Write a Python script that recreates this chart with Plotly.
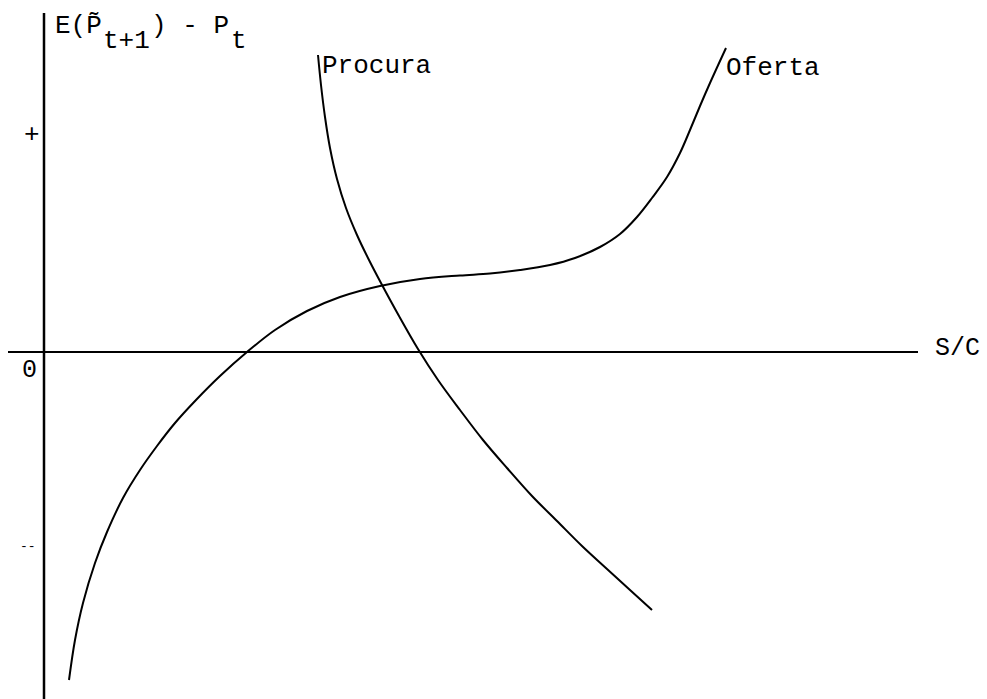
import plotly.graph_objects as go

# curves (x = S/C, y = E(P~t+1) - Pt, origin at axis crossing)
oferta_x = [0.25, 0.31, 0.39, 0.51, 0.63, 0.79, 0.96, 1.13, 1.31, 1.52, 1.76, 2.03, 2.31, 2.63, 2.96, 3.36,
            3.76, 4.16, 4.46, 4.76, 5.06, 5.31, 5.56, 5.76, 5.93, 6.08, 6.23, 6.36, 6.46, 6.56, 6.66, 6.82]
oferta_y = [-3.28, -2.88, -2.51, -2.11, -1.80, -1.46, -1.18, -0.94, -0.71, -0.48, -0.24, 0.00, 0.22, 0.41, 0.55, 0.66,
            0.73, 0.765, 0.785, 0.82, 0.87, 0.94, 1.05, 1.18, 1.35, 1.54, 1.75, 1.99, 2.22, 2.46, 2.69, 3.04]

procura_x = [2.74, 2.77, 2.81, 2.86, 2.93, 3.02, 3.13, 3.25, 3.37, 3.55, 3.74, 3.94, 4.16, 4.39, 4.63,
             4.88, 5.13, 5.38, 5.63, 5.86, 6.08]
procura_y = [2.97, 2.67, 2.35, 2.04, 1.73, 1.44, 1.17, 0.92, 0.69, 0.36, 0.03, -0.28, -0.58, -0.88, -1.16,
             -1.44, -1.69, -1.94, -2.17, -2.38, -2.58]

# axis extents
x_axis_span = [-0.36, 8.74]
y_axis_span = [-3.47, 3.39]

font_mono = "Liberation Mono"

fig = go.Figure()

fig.add_trace(go.Scatter(x=oferta_x, y=oferta_y, mode="lines", line_shape="spline",
                         line=dict(color="black", width=2, smoothing=1), name="Oferta"))
fig.add_trace(go.Scatter(x=procura_x, y=procura_y, mode="lines", line_shape="spline",
                         line=dict(color="black", width=2, smoothing=1), name="Procura"))

# axes drawn as lines
fig.add_shape(type="line", x0=x_axis_span[0], x1=x_axis_span[1], y0=0, y1=0,
              line=dict(color="black", width=2))
fig.add_shape(type="line", x0=0, x1=0, y0=y_axis_span[0], y1=y_axis_span[1],
              line=dict(color="black", width=2.5))

def label(x, y, text, size=26, anchor="left"):
    fig.add_annotation(x=x, y=y, text=text, showarrow=False, xanchor=anchor, yanchor="middle",
                       font=dict(family=font_mono, size=size, color="black"))

label(2.76, 2.86, "Procura")
label(6.80, 2.84, "Oferta")
label(8.89, 0.04, "S/C", size=25)
label(-0.15, -0.18, "0", size=25, anchor="center")
label(-0.12, 2.17, "+", size=26, anchor="center")
label(-0.16, -1.94, "--", size=13, anchor="center")

# y axis title, typewriter style with lowered subscripts
label(0.09, 3.26, "E(P\u0303")
label(0.57, 3.11, "t+1")
label(1.05, 3.26, ") - P")
label(1.85, 3.11, "t")

fig.update_layout(
    width=987, height=699,
    margin=dict(l=0, r=0, t=0, b=0),
    paper_bgcolor="white", plot_bgcolor="white",
    showlegend=False,
    xaxis=dict(range=[-0.44, 9.43], visible=False),
    yaxis=dict(range=[-3.47, 3.52], visible=False),
)

fig.write_html("out.html", config={"displayModeBar": False},
               post_script="document.body.style.margin = '0';")
